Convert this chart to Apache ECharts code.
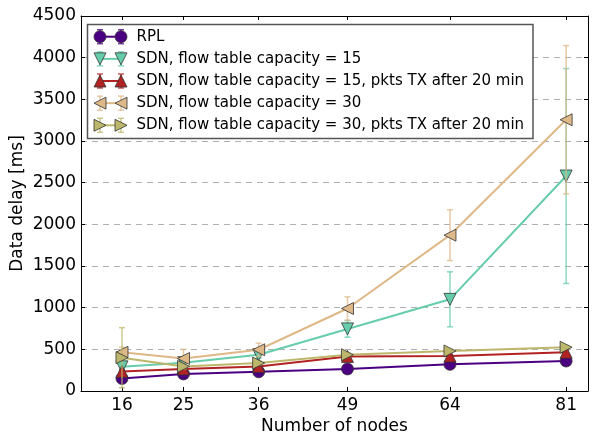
<!DOCTYPE html>
<html>
<head>
<meta charset="utf-8">
<script src="https://cdn.jsdelivr.net/npm/echarts@6/dist/echarts.min.js"></script>
<style>
  html, body { margin: 0; padding: 0; background: #fff; }
  #main { width: 592px; height: 439px; }
</style>
</head>
<body>
<div id="main"></div>
<script>
// number of nodes (x)
var nodes = [16, 25, 36, 49, 64, 81];

// mean data delay [ms] and error (half bar) per series
var rpl = [150, 205, 230, 265, 320, 360];
var rplErr = [20, 15, 15, 15, 15, 20];
var sdn15 = [290, 340, 435, 745, 1100, 2580];
var sdn15Err = [30, 25, 40, 100, 330, 1290];
var sdn15tx = [235, 265, 295, 415, 420, 465];
var sdn15txErr = [20, 15, 15, 20, 20, 25];
var sdn30 = [465, 390, 495, 990, 1870, 3255];
var sdn30Err = [60, 110, 80, 140, 305, 890];
var sdn30tx = [400, 295, 335, 435, 480, 525];
var sdn30txErr = [360, 30, 25, 20, 20, 20];

var names = [
  'RPL',
  'SDN, flow table capacity = 15',
  'SDN, flow table capacity = 15, pkts TX after 20 min',
  'SDN, flow table capacity = 30',
  'SDN, flow table capacity = 30, pkts TX after 20 min'
];
var colors = ['#4b0082', '#66cdaa', '#b22222', '#deb887', '#bdb76b'];
var symbols = ['circle', 'triangle', 'triangle', 'triangle', 'triangle'];
var rotates = [0, 180, 0, 90, -90];
var values = [rpl, sdn15, sdn15tx, sdn30, sdn30tx];
var errors = [rplErr, sdn15Err, sdn15txErr, sdn30Err, sdn30txErr];

var chartDom = document.getElementById('main');
var myChart = echarts.init(chartDom);
var font = 'DejaVu Sans';

var series = [];
values.forEach(function (vals, i) {
  var errData = nodes.map(function (n, k) {
    return [n, vals[k] - errors[i][k], vals[k] + errors[i][k]];
  });
  series.push({
    type: 'custom',
    z: 2 + i * 2,
    silent: true,
    data: errData,
    renderItem: function (params, api) {
      var top = api.coord([api.value(0), api.value(2)]);
      var bot = api.coord([api.value(0), api.value(1)]);
      var cap = 3;
      var st = { stroke: colors[i], lineWidth: 1.5, opacity: 0.75 };
      return {
        type: 'group',
        children: [
          { type: 'line', shape: { x1: top[0], y1: top[1], x2: bot[0], y2: bot[1] }, style: st },
          { type: 'line', shape: { x1: top[0] - cap, y1: top[1], x2: top[0] + cap, y2: top[1] }, style: st },
          { type: 'line', shape: { x1: bot[0] - cap, y1: bot[1], x2: bot[0] + cap, y2: bot[1] }, style: st }
        ]
      };
    }
  });
  series.push({
    type: 'line',
    name: names[i],
    z: 3 + i * 2,
    data: nodes.map(function (n, k) { return [n, vals[k]]; }),
    symbol: symbols[i],
    symbolRotate: rotates[i],
    symbolSize: 12,
    showAllSymbol: true,
    lineStyle: { color: colors[i], width: 2 },
    itemStyle: { color: colors[i], borderColor: '#333', borderWidth: 0.8 }
  });
});

// legend drawn by hand: matplotlib style handle (two markers, line, error caps)
function marker(i, cx, cy) {
  var st = { fill: colors[i], stroke: '#333', lineWidth: 0.8 };
  if (i === 0) return { type: 'circle', shape: { cx: cx, cy: cy, r: 6 }, style: st };
  var s = 6;
  var pts;
  if (rotates[i] === 0) pts = [[cx, cy - s], [cx + s, cy + s], [cx - s, cy + s]];
  else if (rotates[i] === 180) pts = [[cx - s, cy - s], [cx + s, cy - s], [cx, cy + s]];
  else if (rotates[i] === 90) pts = [[cx - s, cy], [cx + s, cy - s], [cx + s, cy + s]];
  else pts = [[cx + s, cy], [cx - s, cy - s], [cx - s, cy + s]];
  return { type: 'polygon', shape: { points: pts }, style: st };
}

var legendEls = [{
  type: 'rect',
  shape: { x: 87.5, y: 24.5, width: 445.5, height: 114 },
  style: { fill: '#fff', stroke: '#555', lineWidth: 1.5 },
  z: 100
}];
names.forEach(function (n, i) {
  var cy = 36.7 + i * 22.15;
  var x1 = 100, x2 = 121;
  var eb = { stroke: colors[i], lineWidth: 1.5, opacity: 0.75 };
  [x1, x2].forEach(function (x) {
    legendEls.push({ type: 'line', shape: { x1: x, y1: cy - 7, x2: x, y2: cy + 7 }, style: eb, z: 101 });
    legendEls.push({ type: 'line', shape: { x1: x - 3, y1: cy - 7, x2: x + 3, y2: cy - 7 }, style: eb, z: 101 });
    legendEls.push({ type: 'line', shape: { x1: x - 3, y1: cy + 7, x2: x + 3, y2: cy + 7 }, style: eb, z: 101 });
  });
  legendEls.push({ type: 'line', shape: { x1: x1, y1: cy, x2: x2, y2: cy }, style: { stroke: colors[i], lineWidth: 2 }, z: 102 });
  var m1 = marker(i, x1, cy); m1.z = 103; legendEls.push(m1);
  var m2 = marker(i, x2, cy); m2.z = 103; legendEls.push(m2);
  legendEls.push({
    type: 'text', x: 136.5, y: cy, z: 103,
    style: { text: n, fontFamily: font, fontSize: 15, fill: '#000', verticalAlign: 'middle', align: 'left' }
  });
});

var option = {
  animation: false,
  textStyle: { fontFamily: font },
  grid: { left: 81, right: 4, top: 16, bottom: 48, outerBoundsMode: 'none' },
  graphic: legendEls,
  xAxis: [
    {
      type: 'value',
      min: 10,
      max: 84.2,
      name: 'Number of nodes',
      nameLocation: 'middle',
      nameGap: 27,
      nameMoveOverlap: false,
      nameTextStyle: { fontFamily: font, fontSize: 17, color: '#000' },
      axisLine: { onZero: false, lineStyle: { color: '#000', width: 1 } },
      axisTick: { inside: true, length: 4, customValues: nodes, lineStyle: { color: '#000' } },
      axisLabel: { customValues: nodes, fontFamily: font, fontSize: 17, color: '#000', margin: 6 },
      splitLine: { show: false }
    },
    {
      type: 'value',
      position: 'top',
      min: 10,
      max: 84.2,
      axisLine: { onZero: false, lineStyle: { color: '#000', width: 1 } },
      axisTick: { inside: true, length: 4, customValues: nodes, lineStyle: { color: '#000' } },
      axisLabel: { show: false },
      splitLine: { show: false }
    }
  ],
  yAxis: [
    {
      type: 'value',
      min: 0,
      max: 4500,
      interval: 500,
      name: 'Data delay [ms]',
      nameLocation: 'middle',
      nameGap: 55,
      nameMoveOverlap: false,
      nameTextStyle: { fontFamily: font, fontSize: 17, color: '#000' },
      axisLine: { show: true, lineStyle: { color: '#000', width: 1 } },
      axisTick: { show: true, inside: true, length: 4, lineStyle: { color: '#000' } },
      axisLabel: { fontFamily: font, fontSize: 17, color: '#000', margin: 5, formatter: function (v) { return String(v); } },
      splitLine: { show: true, lineStyle: { color: '#b0b0b0', type: [6, 5], width: 1 } }
    },
    {
      type: 'value',
      position: 'right',
      min: 0,
      max: 4500,
      interval: 500,
      axisLine: { show: true, lineStyle: { color: '#000', width: 1 } },
      axisTick: { show: true, inside: true, length: 4, lineStyle: { color: '#000' } },
      axisLabel: { show: false },
      splitLine: { show: false }
    }
  ],
  series: series
};

myChart.setOption(option);
</script>
</body>
</html>
